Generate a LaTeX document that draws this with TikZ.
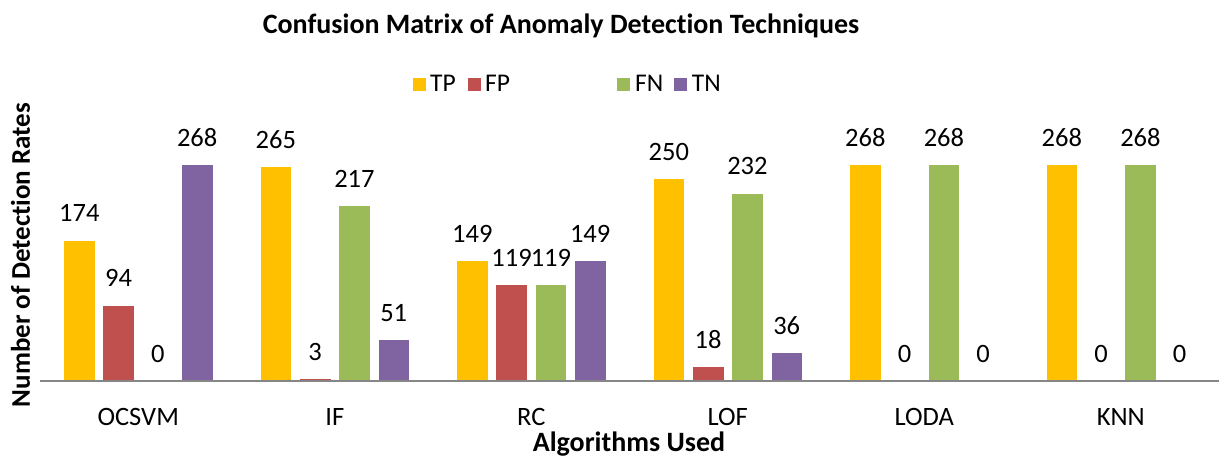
\documentclass[tikz,border=0pt]{standalone}
\usepackage{fontspec}
\setmainfont{Carlito}[Ligatures={NoCommon}]
\definecolor{tpc}{HTML}{FFC000}
\definecolor{fpc}{HTML}{C0504D}
\definecolor{fnc}{HTML}{9BBB59}
\definecolor{tnc}{HTML}{8064A2}
\definecolor{axisgray}{HTML}{868686}
\begin{document}
\begin{tikzpicture}[x=1pt,y=-1pt,
  valuelabel/.style={inner sep=0pt,font=\fontsize{26.5}{30}\selectfont},
  catlabel/.style={inner sep=0pt,font=\fontsize{26.5}{30}\selectfont},
  axistitle/.style={inner sep=0pt,font=\fontsize{28}{32}\selectfont\bfseries},
  ytitlestyle/.style={inner sep=0pt,font=\fontsize{27}{31}\selectfont\bfseries},
  legtext/.style={inner sep=0pt,anchor=base west,font=\fontsize{25.5}{30}\selectfont},
  legkey/.style={draw=none,minimum size=12.7pt,inner sep=0pt,anchor=north west},
  barbox/.style={draw=white,line width=0.6pt}]
\useasboundingbox (0,0) rectangle (1219,457);

% chart title
\node[axistitle,anchor=base] (title) at (561,33.3) {Confusion Matrix of Anomaly Detection Techniques};

% legend
\foreach \lx/\tx/\col/\lab in {413/430/tpc/TP,468/485/fpc/FP,616.7/635/fnc/FN,674/691.7/tnc/TN}{
  \node[legkey,fill=\col] (key-\lab) at (\lx,78) {};
  \node[legtext] (leg-\lab) at (\tx,92) {\lab};
}

% bars and value labels; baseline at y=381, 268 units = 217 px
\foreach \name/\k/\tp/\fp/\fn/\tn in {OCSVM/0/174/94/0/268,IF/1/265/3/217/51,RC/2/149/119/119/149,LOF/3/250/18/232/36,LODA/4/268/0/268/0,KNN/5/268/0/268/0}{
  \pgfmathsetmacro{\c}{40+196.5*(\k+0.5)}
  \foreach \v/\o/\col/\s in {\tp/-58.95/tpc/tp,\fp/-19.65/fpc/fp,\fn/19.65/fnc/fn,\tn/58.95/tnc/tn}{
    \pgfmathsetmacro{\bx}{\c+\o}
    \pgfmathsetmacro{\bartop}{381-\v*0.80970}
    \ifnum\v>0
      \fill[\col] (\bx-15.85,381) rectangle (\bx+15.85,\bartop);
      \draw[barbox] (\bx-15.85,381) -- (\bx-15.85,\bartop) -- (\bx+15.85,\bartop) -- (\bx+15.85,381);
    \fi
    \node[valuelabel] (val-\k-\s) at (\bx,\bartop-26.7) {\v};
  }
  \node[catlabel] (cat-\k) at (\c,416.7) {\name};
}

% horizontal axis
\coordinate (axL) at (40,381);
\coordinate (axR) at (1219,381);
\draw[axisgray,line width=2pt] (axL) -- (axR);

% axis titles
\node[axistitle,anchor=base] (xtitle) at (629,451) {Algorithms Used};
\node[ytitlestyle,anchor=base,rotate=90] (ytitle) at (30,255) {Number of Detection Rates};
\end{tikzpicture}
\end{document}
